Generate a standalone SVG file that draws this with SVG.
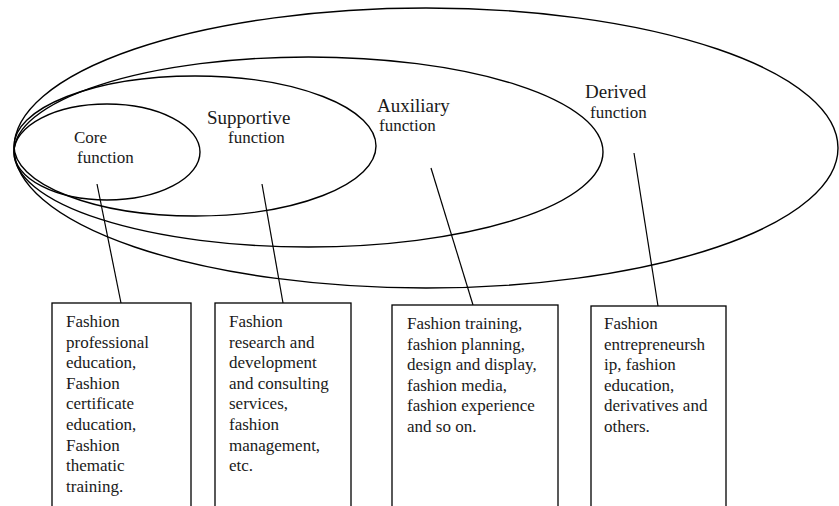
<svg xmlns="http://www.w3.org/2000/svg" width="839" height="506" viewBox="0 0 839 506">
<style>
.e{fill:none;stroke:#000;stroke-width:1.4}
.b{fill:#fff;stroke:#000;stroke-width:1.3}
.c{stroke:#000;stroke-width:1.2;fill:none}
text{font-family:"Liberation Serif","Times New Roman",serif;fill:#1a1a1a}
.t{font-size:17px}
.h{font-size:19px}
.f{font-size:17px}
</style>
<rect width="839" height="506" fill="#fff"/>
<g id="derived"><ellipse class="e" cx="426" cy="148" rx="412" ry="140"/>
<text class="h" x="585" y="98">Derived</text><text class="f" x="590" y="118">function</text></g>
<g id="auxiliary"><ellipse class="e" cx="308.5" cy="152" rx="294.5" ry="95"/>
<text class="h" x="377" y="112">Auxiliary</text><text class="f" x="379" y="131">function</text></g>
<g id="supportive"><ellipse class="e" cx="195" cy="146" rx="181" ry="70"/>
<text class="h" x="207" y="124">Supportive</text><text class="f" x="228" y="143">function</text></g>
<g id="core"><ellipse class="e" cx="107" cy="152" rx="93" ry="48"/>
<text class="f" x="74" y="143">Core</text><text class="f" x="77" y="163">function</text></g>
<g id="connectors">
<line class="c" x1="97" y1="184" x2="121" y2="303"/>
<line class="c" x1="262" y1="184" x2="283" y2="303"/>
<line class="c" x1="431" y1="168" x2="473" y2="305"/>
<line class="c" x1="634" y1="153" x2="658" y2="306"/>
</g>
<g id="box1"><rect class="b" x="52" y="303" width="139" height="220"/>
<text class="t"><tspan x="66" y="327">Fashion</tspan><tspan x="66" y="347.6">professional</tspan><tspan x="66" y="368.2">education,</tspan><tspan x="66" y="388.8">Fashion</tspan><tspan x="66" y="409.4">certificate</tspan><tspan x="66" y="430">education,</tspan><tspan x="66" y="450.6">Fashion</tspan><tspan x="66" y="471.2">thematic</tspan><tspan x="66" y="491.8">training.</tspan></text></g>
<g id="box2"><rect class="b" x="215" y="303" width="136" height="220"/>
<text class="t"><tspan x="229" y="327">Fashion</tspan><tspan x="229" y="347.6">research and</tspan><tspan x="229" y="368.2">development</tspan><tspan x="229" y="388.8">and consulting</tspan><tspan x="229" y="409.4">services,</tspan><tspan x="229" y="430">fashion</tspan><tspan x="229" y="450.6">management,</tspan><tspan x="229" y="471.2">etc.</tspan></text></g>
<g id="box3"><rect class="b" x="392" y="305" width="166" height="220"/>
<text class="t"><tspan x="407" y="329">Fashion training,</tspan><tspan x="407" y="349.6">fashion planning,</tspan><tspan x="407" y="370.2">design and display,</tspan><tspan x="407" y="390.8">fashion media,</tspan><tspan x="407" y="411.4">fashion experience</tspan><tspan x="407" y="432">and so on.</tspan></text></g>
<g id="box4"><rect class="b" x="591" y="306" width="135" height="220"/>
<text class="t"><tspan x="604" y="329">Fashion</tspan><tspan x="604" y="349.6">entrepreneursh</tspan><tspan x="604" y="370.2">ip, fashion</tspan><tspan x="604" y="390.8">education,</tspan><tspan x="604" y="411.4">derivatives and</tspan><tspan x="604" y="432">others.</tspan></text></g>
</svg>
